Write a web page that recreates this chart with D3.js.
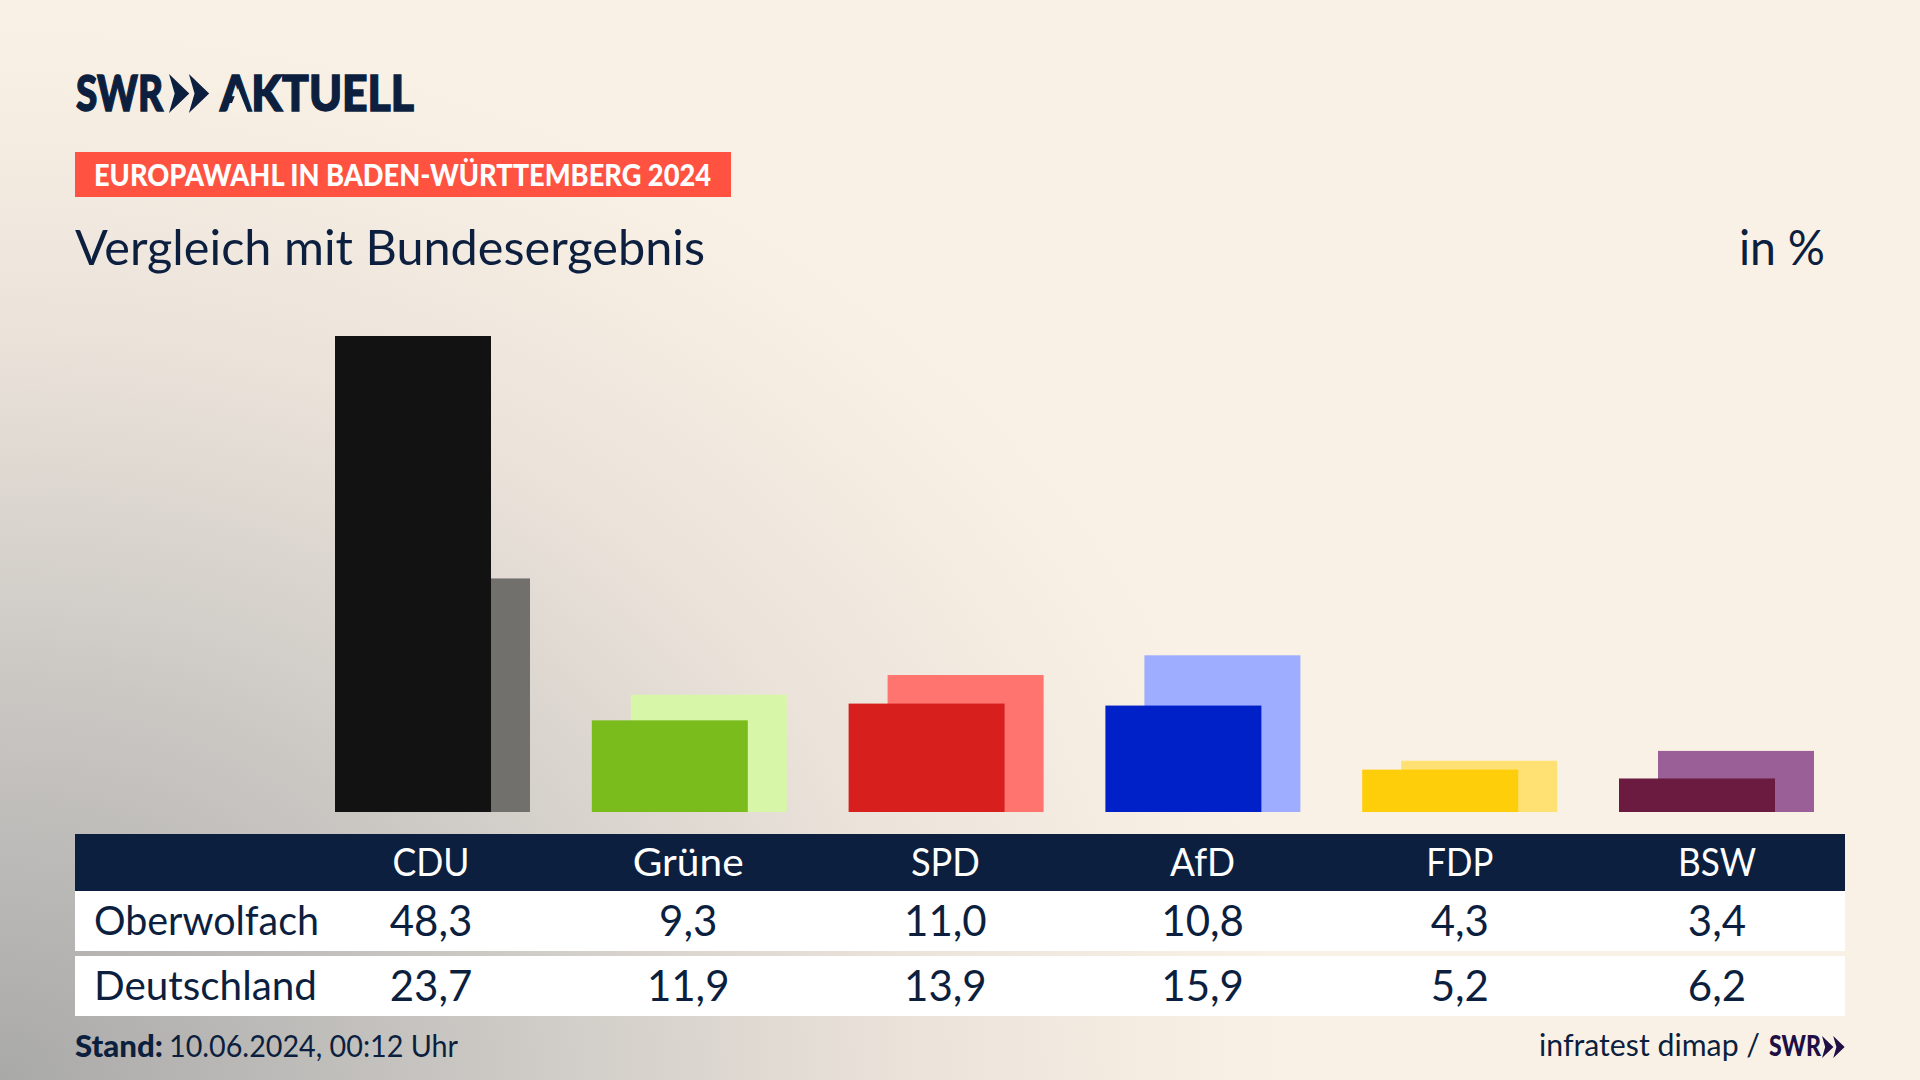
<!DOCTYPE html>
<html lang="de">
<head>
<meta charset="utf-8">
<title>Europawahl in Baden-Württemberg 2024</title>
<script src="https://cdn.jsdelivr.net/npm/d3@7"></script>
<style>
  html, body { margin: 0; padding: 0; background: #faf1e6; overflow: hidden; }
  svg { display: block; }
  text { font-family: Lato, "Noto Sans", sans-serif; fill: #0c1f3f; }
</style>
</head>
<body>
<script>
const parties = ['CDU', 'Grüne', 'SPD', 'AfD', 'FDP', 'BSW'];
const oberwolfach = [48.3, 9.3, 11.0, 10.8, 4.3, 3.4];
const deutschland = [23.7, 11.9, 13.9, 15.9, 5.2, 6.2];
const rowLabels = ['Oberwolfach', 'Deutschland'];
const localColors = ['#121212', '#79bc1b', '#d71f1d', '#0021c8', '#ffce0b', '#6b1a40'];
const nationalColors = ['#72706d', '#d7f6a8', '#ff746e', '#9eadff', '#ffe072', '#9a5f96'];

// label widths as measured in the picture, the original typeface is narrower than Lato
const partyWidths = [77, 111, 69, 65, 67, 78];
const rowLabelWidths = [225, 223];

const NAVY = '#0c1f3f';
const BAR_WIDTH = 156;
const BACK_OFFSET = 39;

const svg = d3.select('body').append('svg')
  .attr('width', 1920)
  .attr('height', 1080);

// grey glow out of the bottom left corner
const glow = svg.append('defs').append('radialGradient')
  .attr('id', 'glow')
  .attr('gradientUnits', 'userSpaceOnUse')
  .attr('cx', 0).attr('cy', 0).attr('r', 1)
  .attr('gradientTransform', 'translate(0,1080) scale(1400,1150)');
[[0, '#a9a9a8'], [0.35, '#cbc8c4'], [0.65, '#ebe3da'], [0.92, '#faf1e6']].forEach(([o, c]) => {
  glow.append('stop').attr('offset', o).attr('stop-color', c);
});
svg.append('rect').attr('width', 1920).attr('height', 1080).attr('fill', 'url(#glow)');

// squeeze a label to the width it has in the picture
function fit (sel, width) {
  return sel.attr('textLength', width).attr('lengthAdjust', 'spacingAndGlyphs');
}

function chevrons (g, x, y, h, color) {
  const w = h * 0.52;
  [0, w * 0.98].forEach(dx => {
    const x0 = x + dx;
    g.append('path')
      .attr('fill', color)
      .attr('d', d3.line()([
        [x0, y], [x0 + w, y + h / 2], [x0, y + h], [x0 + w * 0.28, y + h / 2]
      ]) + 'Z');
  });
}

// header
const logo = svg.append('g');
fit(logo.append('text').attr('x', 76).attr('y', 111)
  .attr('font-size', 50).attr('font-weight', 900)
  .style('fill', NAVY).style('stroke', NAVY).style('stroke-width', 1.5).text('SWR'), 87);
chevrons(logo, 169, 74, 39, NAVY);
fit(logo.append('text').attr('x', 220).attr('y', 111)
  .attr('font-size', 50).attr('font-weight', 900)
  .style('fill', NAVY).style('stroke', NAVY).style('stroke-width', 1.5).text('AKTUELL'), 194);
// the logo's A has no crossbar
logo.append('path')
  .attr('fill', '#f8f0e5')
  .attr('d', d3.line()([[238, 88], [228, 113], [248, 113]]) + 'Z');

svg.append('rect').attr('x', 75).attr('y', 152).attr('width', 656).attr('height', 45).attr('fill', '#ff5240');
fit(svg.append('text').attr('x', 94).attr('y', 186)
  .attr('font-size', 31).attr('font-weight', 900).style('fill', '#fff')
  .text('EUROPAWAHL IN BADEN-WÜRTTEMBERG 2024'), 617);

fit(svg.append('text').attr('x', 75).attr('y', 265)
  .attr('font-size', 48).text('Vergleich mit Bundesergebnis'), 630);
fit(svg.append('text').attr('x', 1739).attr('y', 265)
  .attr('font-size', 48).text('in %'), 86);

// bars, their left edges step a little tighter than the table columns
const x = d3.scalePoint().domain(parties).range([431, 1717]);
const barX = d3.scalePoint().domain(parties).range([335, 1619]);
const y = d3.scaleLinear().domain([0, 48.3]).range([812, 336]);

svg.append('g').selectAll('rect')
  .data(deutschland)
  .join('rect')
  .attr('x', (d, i) => barX(parties[i]) + BACK_OFFSET)
  .attr('y', d => y(d))
  .attr('width', BAR_WIDTH)
  .attr('height', d => y(0) - y(d))
  .attr('fill', (d, i) => nationalColors[i]);

svg.append('g').selectAll('rect')
  .data(oberwolfach)
  .join('rect')
  .attr('x', (d, i) => barX(parties[i]))
  .attr('y', d => y(d))
  .attr('width', BAR_WIDTH)
  .attr('height', d => y(0) - y(d))
  .attr('fill', (d, i) => localColors[i]);

// table
svg.append('rect').attr('x', 75).attr('y', 834).attr('width', 1770).attr('height', 57).attr('fill', NAVY);
svg.append('g').selectAll('text')
  .data(parties)
  .join('text')
  .attr('x', d => x(d))
  .attr('y', 876)
  .attr('text-anchor', 'middle')
  .attr('font-size', 39)
  .attr('textLength', (d, i) => partyWidths[i])
  .attr('lengthAdjust', 'spacingAndGlyphs')
  .style('fill', '#fff')
  .text(d => d);

const rowY = d3.scalePoint().domain(rowLabels).range([891, 956]);
const rows = svg.append('g').selectAll('g')
  .data([oberwolfach, deutschland])
  .join('g')
  .attr('transform', (d, i) => `translate(0,${rowY(rowLabels[i])})`);

rows.append('rect').attr('x', 75).attr('width', 1770).attr('height', 60).attr('fill', '#fff');
rows.append('text')
  .attr('x', 94)
  .attr('y', 44)
  .attr('font-size', 40)
  .attr('textLength', (d, i) => rowLabelWidths[i])
  .attr('lengthAdjust', 'spacingAndGlyphs')
  .text((d, i) => rowLabels[i]);
rows.selectAll('text.value')
  .data(d => d)
  .join('text')
  .attr('class', 'value')
  .attr('x', (d, i) => x(parties[i]))
  .attr('y', 45)
  .attr('text-anchor', 'middle')
  .attr('font-size', 42)
  .text(d => d.toFixed(1).replace('.', ','));

// footer
fit(svg.append('text').attr('x', 75).attr('y', 1057).attr('font-size', 30)
  .attr('font-weight', 900).text('Stand:'), 88);
fit(svg.append('text').attr('x', 169).attr('y', 1057).attr('font-size', 30)
  .text('10.06.2024, 00:12 Uhr'), 289);

fit(svg.append('text').attr('x', 1539).attr('y', 1056).attr('font-size', 30)
  .text('infratest dimap /'), 221);
fit(svg.append('text').attr('x', 1769).attr('y', 1056).attr('font-size', 29)
  .attr('font-weight', 900).style('fill', '#1e0f45').text('SWR'), 52);
chevrons(svg.append('g'), 1822, 1036, 22, '#1e0f45');
</script>
</body>
</html>
